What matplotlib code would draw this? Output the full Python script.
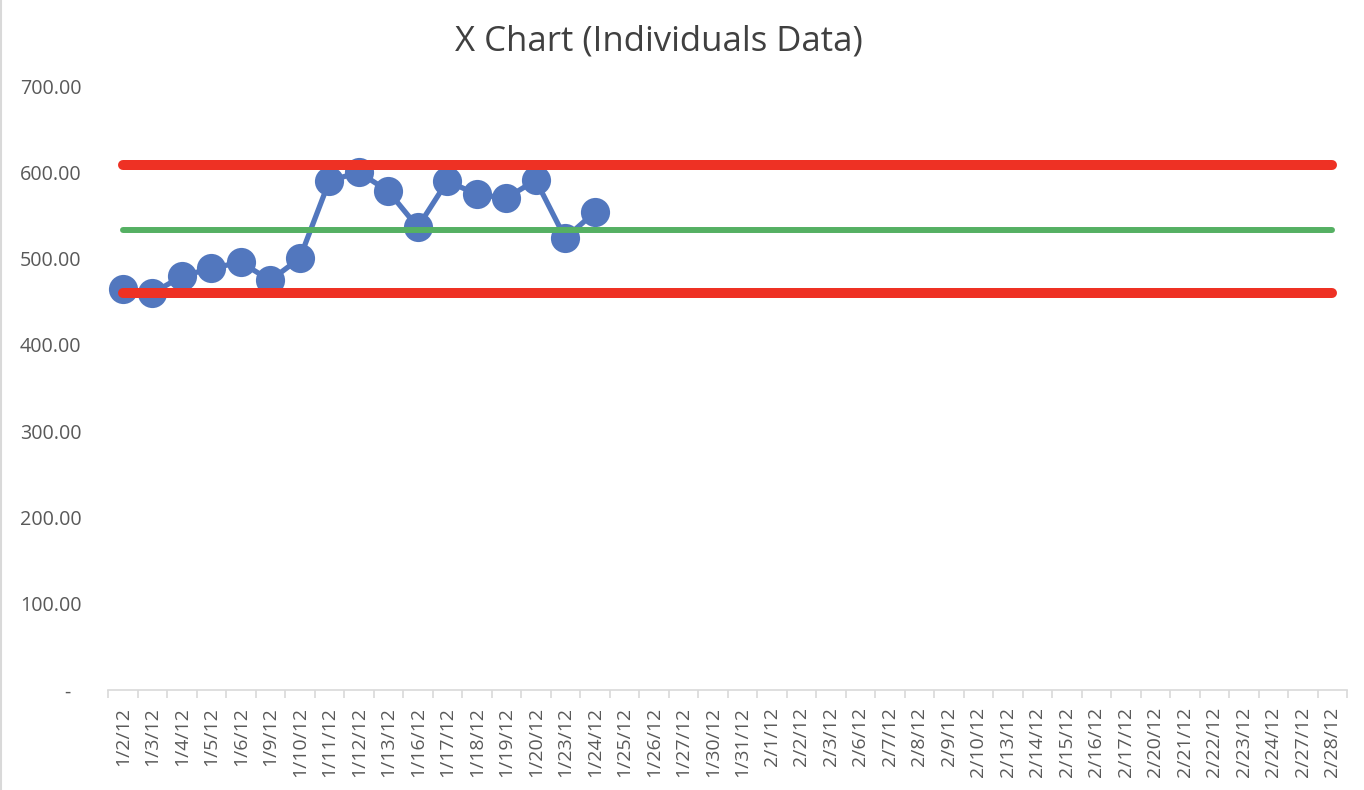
import matplotlib.pyplot as plt
import numpy as np

plt.rcParams['font.family'] = ['Open Sans', 'DejaVu Sans']

# --- Data ---
dates = ['1/2/12', '1/3/12', '1/4/12', '1/5/12', '1/6/12', '1/9/12', '1/10/12',
         '1/11/12', '1/12/12', '1/13/12', '1/16/12', '1/17/12', '1/18/12', '1/19/12',
         '1/20/12', '1/23/12', '1/24/12', '1/25/12', '1/26/12', '1/27/12', '1/30/12',
         '1/31/12', '2/1/12', '2/2/12', '2/3/12', '2/6/12', '2/7/12', '2/8/12',
         '2/9/12', '2/10/12', '2/13/12', '2/14/12', '2/15/12', '2/16/12', '2/17/12',
         '2/20/12', '2/21/12', '2/22/12', '2/23/12', '2/24/12', '2/27/12', '2/28/12']
values = [464.4, 459.7, 479.4, 488.7, 495.7, 474.8, 500.3, 589.7, 600.2, 578.1,
          536.3, 589.7, 574.6, 570.0, 590.9, 523.6, 553.8]
ucl = 608.3
mean = 532.9
lcl = 459.7

x_all = np.arange(len(dates))
x_data = np.arange(len(values))

# --- Plot ---
fig = plt.figure(figsize=(13.64, 7.9), dpi=100)
ax = fig.add_axes([108/1364, 1 - 690/790, (1347-108)/1364, (690-86)/790])

ax.plot(x_all, [ucl]*len(dates), color='#ee3124', linewidth=7.2, solid_capstyle='round', zorder=3)
ax.plot(x_all, [lcl]*len(dates), color='#ee3124', linewidth=7.2, solid_capstyle='round', zorder=3)
ax.plot(x_all, [mean]*len(dates), color='#55b063', linewidth=4.3, solid_capstyle='round', zorder=3)
ax.plot(x_data, values, color='#5277be', linewidth=3.8, marker='o', markersize=21,
        markeredgewidth=0, zorder=2)

ax.set_xlim(-0.5, len(dates) - 0.5)
ax.set_ylim(0, 700)

ax.set_xticks(x_all)
ax.set_xticklabels(dates, rotation=90, fontsize=14, color='#595959')
ax.set_xticks(np.arange(-0.5, len(dates), 1), minor=True)
ax.tick_params(axis='x', which='major', length=0, pad=12)
ax.tick_params(axis='x', which='minor', length=6, color='#d9d9d9', width=1.2, direction='out')

yt = np.arange(0, 701, 100)
ax.set_yticks(yt)
ax.set_yticklabels(['-  '] + [f'{v:.2f}' for v in yt[1:]], fontsize=14.2, color='#595959')
ax.tick_params(axis='y', length=0, pad=19)

for side in ['top', 'right', 'left']:
    ax.spines[side].set_visible(False)
ax.spines['bottom'].set_color('#d9d9d9')
ax.spines['bottom'].set_linewidth(1.2)

fig.suptitle('X Chart (Individuals Data)', fontsize=25, color='#404040', x=0.483, y=0.969)

fig.add_artist(plt.Line2D([0.001, 0.001], [0, 1], color='#d9d9d9', linewidth=1.5))

fig.savefig('out.png', dpi=100)
plt.close()
